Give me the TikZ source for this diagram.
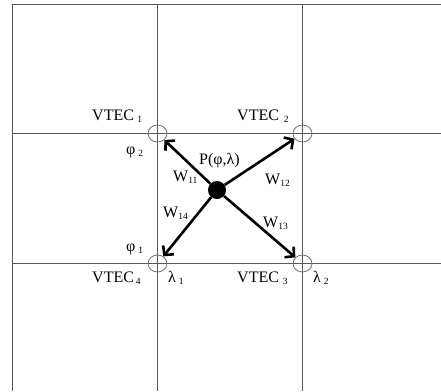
\documentclass[tikz,border=0pt]{standalone}
\usepackage{fontspec}
\setmainfont{Liberation Serif}
\usetikzlibrary{arrows.meta,shapes.geometric}
\newcommand{\lsub}[2][2.5pt]{\hspace{#1}\raisebox{-2pt}{\fontsize{9.5}{9.5}\selectfont #2}}
\tikzset{
  gridline/.style={draw=black!65, line width=1pt},
  knot/.style={ellipse, draw=black!55, line width=0.8pt, minimum width=19pt, minimum height=17pt, inner sep=0pt},
  pdot/.style={circle, fill=black, minimum size=18pt, inner sep=0pt},
  warrow/.style={line width=2.6pt, -{Straight Barb[length=6.5pt,width=14pt,line width=2.6pt]}},
  lbl/.style={anchor=base west, inner sep=0pt, font=\fontsize{16}{16}\selectfont},
}
\begin{document}
\begin{tikzpicture}[x=1pt,y=-1pt]
\useasboundingbox (0,0) rectangle (441,391);
% grid
\draw[gridline] (12.5,391) -- (12.5,4.5) -- (441,4.5);
\draw[gridline] (157.5,4.5) -- (157.5,391);
\draw[gridline] (302.5,4.5) -- (302.5,391);
\draw[gridline] (12.5,133.5) -- (441,133.5);
\draw[gridline] (12.5,263.5) -- (441,263.5);
% knots
\node[knot] (c1) at (157.5,133.5) {};
\node[knot] (c2) at (302.5,133.5) {};
\node[knot] (c3) at (302.5,263.5) {};
\node[knot] (c4) at (157.5,263.5) {};
\node[pdot] (p) at (217,190) {};
% arrows
\draw[warrow] (p) -- (c1);
\draw[warrow] (p) -- (c2);
\draw[warrow] (p) -- (c3);
\draw[warrow] (p) -- (c4);
% labels
\node[lbl] (v1) at (92,120) {VTEC\lsub[3.5pt]{1}};
\node[lbl] (v2) at (237,120) {VTEC\lsub[5pt]{2}};
\node[lbl] (v3) at (237,282) {VTEC\lsub[4pt]{3}};
\node[lbl] (v4) at (92,282) {VTEC\lsub[2pt]{4}};
\node[lbl] (f2) at (126,154) {φ\lsub[3pt]{2}};
\node[lbl] (f1) at (126,251) {φ\lsub[3pt]{1}};
\node[lbl] (l1) at (168,282) {λ\lsub[3pt]{1}};
\node[lbl] (l2) at (313,282) {λ\lsub[3pt]{2}};
\node[lbl] (pl) at (199,164) {P(φ,λ)};
\node[lbl] (w11) at (173,181) {W\lsub[0pt]{11}};
\node[lbl] (w12) at (265,184) {W\lsub[0pt]{12}};
\node[lbl] (w14) at (163,217) {W\lsub[0pt]{14}};
\node[lbl] (w13) at (263,227) {W\lsub[0pt]{13}};
\end{tikzpicture}
\end{document}
